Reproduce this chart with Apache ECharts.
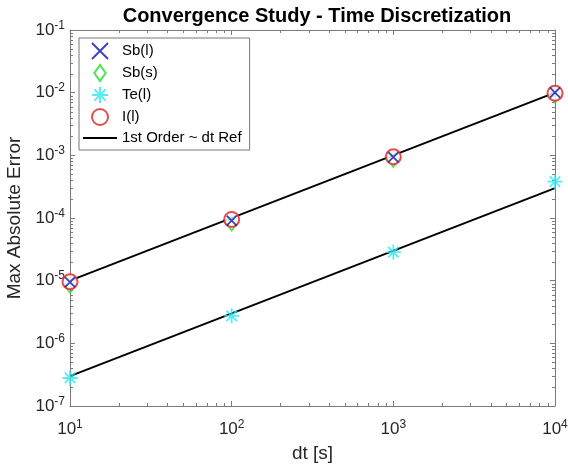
<!DOCTYPE html>
<html>
<head>
<meta charset="utf-8">
<script src="https://cdn.jsdelivr.net/npm/echarts@6/dist/echarts.min.js"></script>
<style>
html, body { margin: 0; padding: 0; background: #fff; }
#chart { width: 568px; height: 465px; }
</style>
</head>
<body>
<div id="chart"></div>
<script>
// values
const dt = [10, 100, 1000, 10000]
const sbL = [9.5e-6, 9.1e-5, 9.4e-4, 1.0e-2]
const sbS = [8.6e-6, 8.4e-5, 8.7e-4, 9.3e-3]
const teL = [2.8e-7, 2.75e-6, 2.85e-5, 3.8e-4]
const iL = [9.6e-6, 9.5e-5, 9.5e-4, 9.8e-3]
const refDt = [10, 10000]
const refHigh = [1e-5, 1e-2]
const refLow = [3e-7, 3e-4]

const font = 'Liberation Sans, Arial, Helvetica, sans-serif'
const axisGrey = '#7a7a7a'

const pairs = (xs, ys) => xs.map((x, i) => [x, ys[i]])
const powLabel = v => '{b|10}{s|' + Math.round(Math.log10(v)) + '}'
const labelRich = {
  b: { fontSize: 17, fontFamily: font, color: '#262626' },
  s: { fontSize: 12, fontFamily: font, color: '#262626', padding: [0, 0, 9, 0] }
}

const crossPath = 'path://M0 0 L10 10 M10 0 L0 10'
const starPath = 'path://M5 0 L5 10 M0 5 L10 5 M1.5 1.5 L8.5 8.5 M8.5 1.5 L1.5 8.5'
const diamondPath = 'path://M5 0 L10 7 L5 14 L0 7 Z'
const linePath = 'path://M0 0 L34 0 L34 2 L0 2 Z'

const chart = echarts.init(document.getElementById('chart'))

const baseAxis = {
  type: 'log',
  logBase: 10,
  axisLine: { show: true, lineStyle: { color: axisGrey, width: 1 } },
  axisTick: { show: true, inside: true, length: 5, lineStyle: { color: axisGrey } },
  splitLine: { show: false }
}

const options = {
  animation: false,
  backgroundColor: '#fff',
  title: {
    text: 'Convergence Study - Time Discretization',
    left: 312,
    textAlign: 'center',
    top: 1,
    textStyle: { fontFamily: font, fontSize: 20, fontWeight: 'bold', color: '#000' }
  },
  grid: { left: 70, right: 13, top: 30, bottom: 59, outerBoundsMode: 'none', containLabel: false },
  legend: {
    orient: 'vertical',
    left: 79,
    top: 38,
    padding: [4, 8, 4, 4],
    itemGap: 4,
    itemWidth: 34,
    itemHeight: 16,
    backgroundColor: '#fff',
    borderColor: '#777',
    borderWidth: 1,
    borderRadius: 0,
    textStyle: { fontFamily: font, fontSize: 15, lineHeight: 16, color: '#000' },
    data: [
      { name: 'Sb(l)' },
      { name: 'Sb(s)', icon: diamondPath },
      { name: 'Te(l)' },
      { name: 'I(l)' },
      { name: '1st Order ~ dt Ref', icon: linePath }
    ]
  },
  xAxis: [
    Object.assign({}, baseAxis, {
      min: 10, max: 10000, splitNumber: 3,
      position: 'bottom',
      name: 'dt [s]', nameLocation: 'middle', nameGap: 38,
      nameTextStyle: { fontFamily: font, fontSize: 19, color: '#262626' },
      axisLabel: { formatter: powLabel, rich: labelRich, margin: 13 }
    }),
    Object.assign({}, baseAxis, {
      min: 10, max: 10000, splitNumber: 3,
      position: 'top',
      axisLabel: { show: false }
    })
  ],
  yAxis: [
    Object.assign({}, baseAxis, {
      min: 1e-7, max: 1e-1, splitNumber: 6,
      position: 'left',
      name: 'Max Absolute Error', nameLocation: 'middle', nameGap: 43,
      nameTextStyle: { fontFamily: font, fontSize: 19, color: '#262626' },
      axisLabel: { formatter: powLabel, rich: labelRich, margin: 5 }
    }),
    Object.assign({}, baseAxis, {
      min: 1e-7, max: 1e-1, splitNumber: 6,
      position: 'right',
      axisLabel: { show: false }
    })
  ],
  series: [
    {
      name: '1st Order ~ dt Ref', type: 'line', data: pairs(refDt, refHigh),
      showSymbol: false, symbol: 'none',
      lineStyle: { color: '#000', width: 2 }, itemStyle: { color: '#000' }, z: 2
    },
    {
      name: '1st Order ~ dt Ref', type: 'line', data: pairs(refDt, refLow),
      showSymbol: false, symbol: 'none',
      lineStyle: { color: '#000', width: 2 }, itemStyle: { color: '#000' }, z: 2
    },
    {
      name: 'Sb(s)', type: 'scatter', data: pairs(dt, sbS), clip: false,
      symbol: diamondPath, symbolSize: [12, 16],
      itemStyle: { color: 'rgba(0,0,0,0)', borderColor: '#22dd22', borderWidth: 1.6 }, z: 3
    },
    {
      name: 'I(l)', type: 'scatter', data: pairs(dt, iL), clip: false,
      symbol: 'emptyCircle', symbolSize: 15,
      itemStyle: { color: '#e02020', borderColor: '#e02020', borderWidth: 2 }, z: 4
    },
    {
      name: 'Sb(l)', type: 'scatter', data: pairs(dt, sbL), clip: false,
      symbol: crossPath, symbolSize: 10,
      itemStyle: { color: 'rgba(0,0,0,0)', borderColor: '#1010b4', borderWidth: 1.8 }, z: 5
    },
    {
      name: 'Te(l)', type: 'scatter', data: pairs(dt, teL), clip: false,
      symbol: starPath, symbolSize: 15,
      itemStyle: { color: 'rgba(0,0,0,0)', borderColor: '#2de8f4', borderWidth: 1.8 }, z: 5
    }
  ]
}
chart.setOption(options)

// MATLAB-style log minor ticks, placed through the axes' own scales
const minorTicks = () => {
  const g = []
  const st = { stroke: axisGrey, lineWidth: 1 }
  const x0 = chart.convertToPixel({ xAxisIndex: 0 }, 10)
  const x1 = chart.convertToPixel({ xAxisIndex: 0 }, 10000)
  const yb = chart.convertToPixel({ yAxisIndex: 0 }, 1e-7)
  const yt = chart.convertToPixel({ yAxisIndex: 0 }, 1e-1)
  for (let e = 1; e < 4; e++) {
    for (let k = 2; k < 10; k++) {
      const x = Math.round(chart.convertToPixel({ xAxisIndex: 0 }, k * Math.pow(10, e))) + 0.5
      g.push({ type: 'line', silent: true, shape: { x1: x, y1: yb, x2: x, y2: yb - 3 }, style: st })
      g.push({ type: 'line', silent: true, shape: { x1: x, y1: yt, x2: x, y2: yt + 3 }, style: st })
    }
  }
  for (let e = -7; e < -1; e++) {
    for (let k = 2; k < 10; k++) {
      const y = Math.round(chart.convertToPixel({ yAxisIndex: 0 }, k * Math.pow(10, e))) + 0.5
      g.push({ type: 'line', silent: true, shape: { x1: x0, y1: y, x2: x0 + 3, y2: y }, style: st })
      g.push({ type: 'line', silent: true, shape: { x1: x1, y1: y, x2: x1 - 3, y2: y }, style: st })
    }
  }
  chart.setOption({ graphic: g })
}
minorTicks()
</script>
</body>
</html>
